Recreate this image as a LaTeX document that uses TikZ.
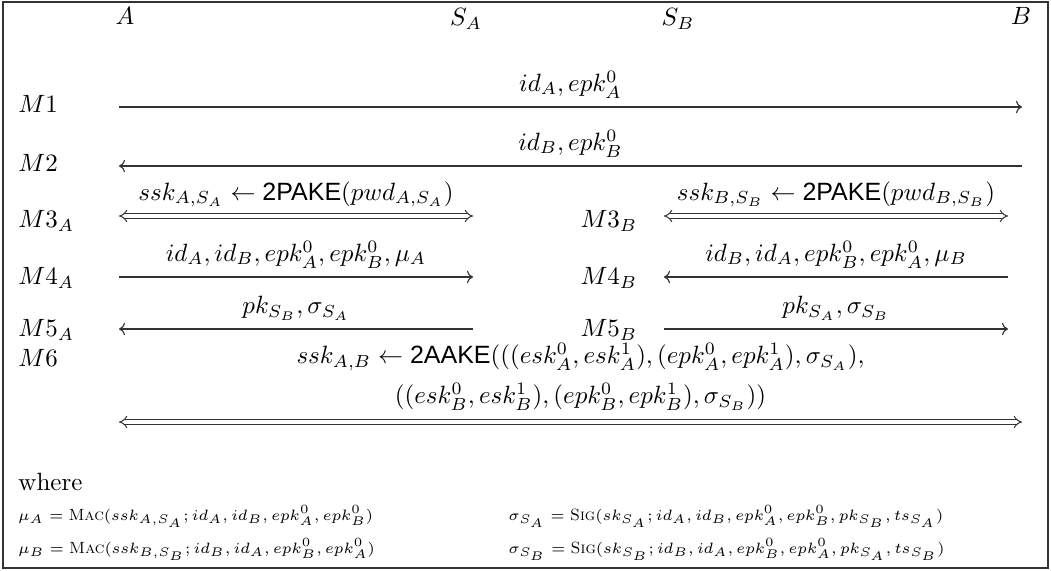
\documentclass[tikz,border=0pt]{standalone}
\usepackage{amsmath}
\usepackage{fontspec}
\setsansfont{Liberation Sans}
\usetikzlibrary{arrows.meta,positioning}
\definecolor{LineGray}{HTML}{333333}

\begin{document}
\begin{tikzpicture}[x=0.4pt,y=-0.4pt,
  party/.style={inner sep=0pt},
  msgname/.style={anchor=base west,inner sep=0pt},
  msg/.style={-{To[length=2.4pt,width=5pt]},line width=0.45pt,draw=LineGray},
  dmsg/.style={{Implies}-{Implies},double=white,double distance=1.3pt,line width=0.4pt,draw=LineGray},
  defline/.style={anchor=base west,inner sep=0pt,font=\fontsize{6.5pt}{8pt}\selectfont}]
  \useasboundingbox (0,0) rectangle (1051,571);
  \draw[line width=0.6pt,draw=LineGray] (3,2) rectangle (1048,568);

  \node[party] (A) at (125,16) {$A$};
  \node[party] (SA) at (466,19) {$S_A$};
  \node[party] (SB) at (678,19) {$S_B$};
  \node[party] (B) at (1021,16) {$B$};

  \coordinate (lA) at (119,0);
  \coordinate (lSA) at (473,0);
  \coordinate (lSB) at (664,0);
  \coordinate (lBs) at (1008,0);
  \coordinate (lB) at (1022,0);
  \foreach \n/\y in {1/107,2/166,3/216,4/277,5/329,6/422}{\coordinate (r\n) at (0,\y);}

  \foreach \nm/\x/\y/\txt in {m1/18/113/M1,m2/18/172/M2,m3a/18/228/M3_A,m4a/18/285/M4_A,m5a/18/337/M5_A,m6/18/367/M6,m3b/580/228/M3_B,m4b/580/285/M4_B,m5b/580/337/M5_B}{\node[msgname] (\nm) at (\x,\y) {$\txt$};}

  \draw[msg] (lA|-r1) -- (lB|-r1) node[midway,above] {$id_A,epk^0_A$};
  \draw[msg] (lB|-r2) -- (lA|-r2) node[midway,above] {$id_B,epk^0_B$};
  \draw[dmsg] (lA|-r3) -- (lSA|-r3) node[midway,above] {$ssk_{A,S_A}\leftarrow\textsf{2PAKE}(pwd_{A,S_A})$};
  \draw[dmsg] (lSB|-r3) -- (lBs|-r3) node[midway,above] {$ssk_{B,S_B}\leftarrow\textsf{2PAKE}(pwd_{B,S_B})$};
  \draw[msg] (lA|-r4) -- (lSA|-r4) node[midway,above] {$id_A,id_B,epk^0_A,epk^0_B,\mu_A$};
  \draw[msg] (lBs|-r4) -- (lSB|-r4) node[midway,above] {$id_B,id_A,epk^0_B,epk^0_A,\mu_B$};
  \draw[msg] (lSA|-r5) -- (lA|-r5) node[midway,above] {$pk_{S_B},\sigma_{S_A}$};
  \draw[msg] (lSB|-r5) -- (lBs|-r5) node[midway,above] {$pk_{S_A},\sigma_{S_B}$};
  \draw[dmsg] (lA|-r6) -- (lB|-r6) node[midway,above=1pt,xshift=4pt,align=center] {$ssk_{A,B}\leftarrow\textsf{2AAKE}(((esk^0_A,esk^1_A),(epk^0_A,epk^1_A),\sigma_{S_A}),$\\[4pt]$((esk^0_B,esk^1_B),(epk^0_B,epk^1_B),\sigma_{S_B}))$};

  \node[anchor=base west,inner sep=0pt] (where) at (18,490) {where};
  \node[defline] (muA) at (18,520) {$\mu_A=\textsc{Mac}(ssk_{A,S_A};id_A,id_B,epk^0_A,epk^0_B)$};
  \node[defline] (muB) at (18,553) {$\mu_B=\textsc{Mac}(ssk_{B,S_B};id_B,id_A,epk^0_B,epk^0_A)$};
  \node[defline] (sigA) at (508,520) {$\sigma_{S_A}=\textsc{Sig}(sk_{S_A};id_A,id_B,epk^0_A,epk^0_B,pk_{S_B},ts_{S_A})$};
  \node[defline] (sigB) at (508,553) {$\sigma_{S_B}=\textsc{Sig}(sk_{S_B};id_B,id_A,epk^0_B,epk^0_A,pk_{S_A},ts_{S_B})$};
\end{tikzpicture}
\end{document}
